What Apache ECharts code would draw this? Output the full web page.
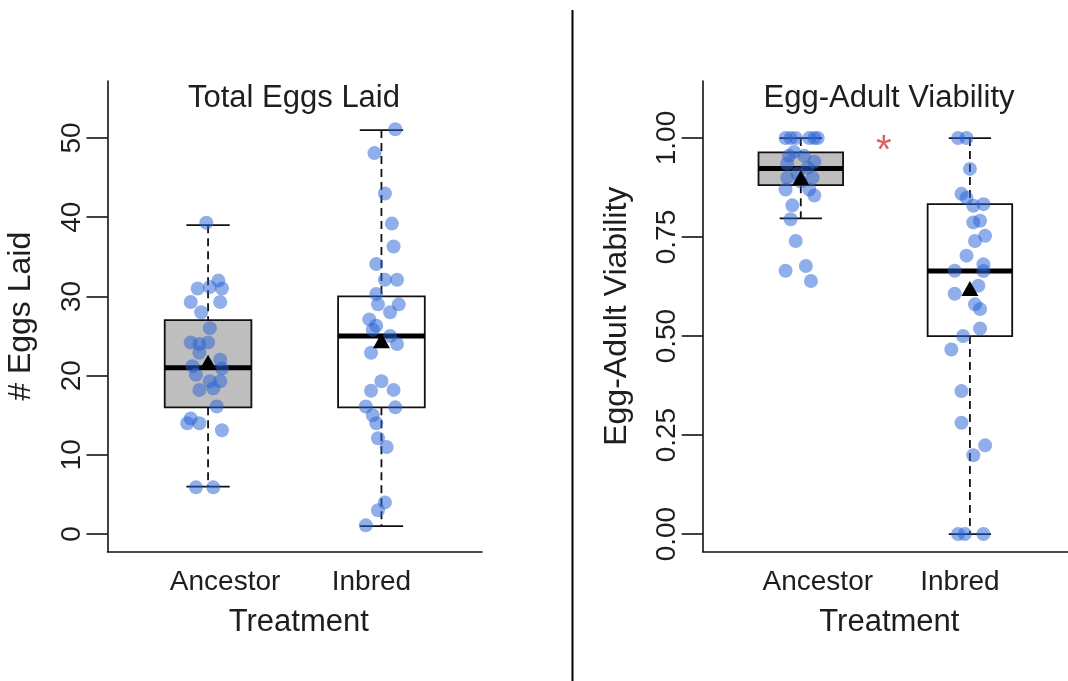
<!DOCTYPE html>
<html><head><meta charset="utf-8">
<script src="https://cdn.jsdelivr.net/npm/echarts@6/dist/echarts.min.js"></script>
<style>html,body{margin:0;padding:0;background:#fff}#c{width:1068px;height:681px}</style>
</head><body><div id="c"></div>
<script>
const categories = ['Ancestor', 'Inbred'];
const panelTitles = ['Total Eggs Laid', 'Egg-Adult Viability'];
const yNames = ['# Eggs Laid', 'Egg-Adult Viability'];
const xName = 'Treatment';
const eggTicks = [0, 10, 20, 30, 40, 50];
const viabTicks = [0, 0.25, 0.5, 0.75, 1];
// box stats per category: [min, q1, median, q3, max]
const eggBoxStats = [[6, 16, 21, 27, 39], [1, 16, 25, 30, 51]];
const eggMeans = [21.7, 24.4];
const viabBoxStats = [[0.797, 0.881, 0.923, 0.964, 1.00], [0.00, 0.50, 0.664, 0.833, 1.00]];
const viabMeans = [0.90, 0.62];
// jittered points: [category position with jitter, value]
const eggAncestorPts = [
  [0.99, 39.3], [0.94, 31.0], [1.01, 31.2], [1.06, 32.0], [1.08, 31.0],
  [0.90, 29.3], [1.07, 29.3], [0.96, 28.0], [1.01, 26.0], [0.90, 24.2],
  [1.00, 24.2], [0.95, 24.0], [0.95, 22.9], [1.07, 22.0], [0.91, 21.2],
  [1.08, 20.9], [0.93, 20.1], [1.01, 19.3], [1.07, 19.3], [0.95, 18.2],
  [1.03, 18.4], [1.05, 16.1], [0.90, 14.6], [0.95, 14.0], [0.88, 14.0],
  [1.08, 13.1], [0.93, 5.9], [1.03, 5.9]
];
const eggInbredPts = [
  [2.08, 51.1], [1.96, 48.1], [2.02, 43.0], [2.06, 39.2], [2.07, 36.3],
  [1.97, 34.1], [2.02, 32.1], [2.09, 32.1], [1.97, 30.3], [1.98, 29.0],
  [2.10, 29.0], [2.05, 28.0], [1.93, 27.1], [1.97, 26.3], [1.95, 25.8],
  [2.05, 25.0], [2.09, 24.0], [1.94, 22.9], [2.00, 19.3], [1.94, 18.1],
  [2.07, 18.2], [1.91, 16.1], [2.08, 16.0], [1.95, 15.0], [1.97, 14.0],
  [1.98, 12.1], [2.03, 11.0], [2.02, 4.0], [1.98, 3.0], [1.91, 1.1]
];
const viabAncestorPts = [
  [0.91, 1.0], [0.94, 1.0], [0.97, 1.0], [1.05, 1.0], [1.08, 1.0], [1.10, 1.0],
  [0.96, 0.965], [0.93, 0.955], [1.02, 0.955], [1.08, 0.94], [0.92, 0.935],
  [1.04, 0.925], [0.98, 0.91], [0.92, 0.90], [1.07, 0.90], [1.00, 0.89],
  [0.91, 0.87], [1.05, 0.87], [1.08, 0.855], [0.95, 0.83], [0.94, 0.795],
  [0.97, 0.74], [1.03, 0.677], [0.91, 0.665], [1.06, 0.639]
];
const viabInbredPts = [
  [1.93, 1.0], [1.98, 1.0], [2.00, 0.922], [1.95, 0.859], [1.98, 0.849],
  [2.02, 0.829], [2.08, 0.833], [2.02, 0.787], [2.06, 0.791], [2.09, 0.753],
  [2.03, 0.74], [1.98, 0.703], [2.08, 0.681], [1.91, 0.665], [2.08, 0.664],
  [2.05, 0.627], [1.91, 0.607], [2.03, 0.58], [2.06, 0.568], [2.06, 0.519],
  [1.96, 0.50], [1.89, 0.466], [1.95, 0.361], [1.95, 0.281], [2.09, 0.224],
  [2.02, 0.199], [1.93, 0.0], [1.97, 0.0], [2.08, 0.0]
];
const sigMark = { x: 1.49, y: 0.965, text: '*' };

// ---- styling ----
const FONT = '"Liberation Sans", Arial, sans-serif';
const TXT = '#1e1e1e';
const BOX_WIDTH = 0.5;
const BOX_FILLS = ['#bebebe', '#ffffff'];
const PT_COLOR = 'rgba(40,100,215,0.52)';
const X_MIN = 0.42, X_MAX = 2.58;

function renderBox(params, api) {
  const x = api.value(0);
  const pLo = api.coord([x, api.value(1)]);
  const pQ1 = api.coord([x, api.value(2)]);
  const pMed = api.coord([x, api.value(3)]);
  const pQ3 = api.coord([x, api.value(4)]);
  const pHi = api.coord([x, api.value(5)]);
  const w = api.size([BOX_WIDTH, 0])[0];
  const cx = pMed[0];
  const dash = { stroke: '#111', lineWidth: 1.8, lineDash: [8, 5], fill: null };
  const solid = { stroke: '#111', lineWidth: 1.8, fill: null };
  return {
    type: 'group', children: [
      { type: 'line', shape: { x1: cx, y1: pHi[1], x2: cx, y2: pQ3[1] }, style: dash },
      { type: 'line', shape: { x1: cx, y1: pQ1[1], x2: cx, y2: pLo[1] }, style: dash },
      { type: 'line', shape: { x1: cx - w / 4, y1: pHi[1], x2: cx + w / 4, y2: pHi[1] }, style: solid },
      { type: 'line', shape: { x1: cx - w / 4, y1: pLo[1], x2: cx + w / 4, y2: pLo[1] }, style: solid },
      { type: 'rect', shape: { x: cx - w / 2, y: pQ3[1], width: w, height: pQ1[1] - pQ3[1] },
        style: { fill: BOX_FILLS[params.dataIndex], stroke: '#111', lineWidth: 1.8 } },
      { type: 'line', shape: { x1: cx - w / 2, y1: pMed[1], x2: cx + w / 2, y2: pMed[1] },
        style: { stroke: '#000', lineWidth: 5 } }
    ]
  };
}

const labelShiftRich = {
  a: { fontSize: 28, fontFamily: FONT, color: TXT, padding: [0, 0, 0, 34] },
  b: { fontSize: 28, fontFamily: FONT, color: TXT, padding: [0, 20, 0, 0] }
};

function xAxisFor(gi) {
  return {
    gridIndex: gi, type: 'value', min: X_MIN, max: X_MAX,
    axisLine: { show: true, onZero: false, lineStyle: { color: '#111', width: 1.6 } },
    axisTick: { show: false }, splitLine: { show: false },
    axisLabel: {
      customValues: [1, 2], margin: 17, fontSize: 28, fontFamily: FONT, color: TXT,
      formatter: v => (Math.round(v) === 1 ? '{a|' : '{b|') + categories[Math.round(v) - 1] + '}',
      rich: labelShiftRich
    },
    name: xName, nameLocation: 'middle', nameGap: 55,
    nameTextStyle: { fontSize: 31, fontFamily: FONT, color: TXT, padding: [0, 0, 0, 8] }
  };
}

function yAxisFor(gi, min, max, ticks, fmt, name) {
  return {
    gridIndex: gi, type: 'value', min, max,
    axisLine: { show: true, onZero: false, lineStyle: { color: '#111', width: 1.6 } },
    axisTick: { show: true, customValues: ticks, length: 21, lineStyle: { color: '#111', width: 1.6 } },
    splitLine: { show: false },
    axisLabel: { customValues: ticks, rotate: 90, margin: 21, fontSize: 28, fontFamily: FONT, color: TXT, formatter: fmt },
    name, nameLocation: 'middle', nameGap: 70,
    nameTextStyle: { fontSize: 32, fontFamily: FONT, color: TXT }
  };
}

function pointSeries(xi, data) {
  return {
    type: 'scatter', xAxisIndex: xi, yAxisIndex: xi, data, symbol: 'circle', symbolSize: 14,
    itemStyle: { color: PT_COLOR, opacity: 1 }, z: 3, silent: true, clip: false
  };
}

const option = {
  animation: false,
  backgroundColor: '#fff',
  grid: [
    { left: 107.5, top: 81, width: 374.5, height: 470.5 },
    { left: 702.7, top: 81, width: 374.5, height: 470.5 }
  ],
  xAxis: [xAxisFor(0), xAxisFor(1)],
  yAxis: [
    yAxisFor(0, -2.2, 57.2, eggTicks, v => String(v), yNames[0]),
    yAxisFor(1, -0.044, 1.144, viabTicks, v => v.toFixed(2), yNames[1])
  ],
  series: [
    { type: 'custom', xAxisIndex: 0, yAxisIndex: 0, renderItem: renderBox, z: 2,
      encode: { x: 0, y: [1, 2, 3, 4, 5] },
      data: eggBoxStats.map((s, i) => [i + 1].concat(s)) },
    { type: 'custom', xAxisIndex: 1, yAxisIndex: 1, renderItem: renderBox, z: 2,
      encode: { x: 0, y: [1, 2, 3, 4, 5] },
      data: viabBoxStats.map((s, i) => [i + 1].concat(s)) },
    pointSeries(0, eggAncestorPts),
    pointSeries(0, eggInbredPts),
    pointSeries(1, viabAncestorPts),
    pointSeries(1, viabInbredPts),
    { type: 'scatter', xAxisIndex: 0, yAxisIndex: 0, symbol: 'triangle', symbolSize: [17, 15],
      itemStyle: { color: '#000', opacity: 1 }, z: 5, data: eggMeans.map((m, i) => [i + 1, m]) },
    { type: 'scatter', xAxisIndex: 1, yAxisIndex: 1, symbol: 'triangle', symbolSize: [17, 15],
      itemStyle: { color: '#000', opacity: 1 }, z: 5, data: viabMeans.map((m, i) => [i + 1, m]) },
    { type: 'scatter', xAxisIndex: 1, yAxisIndex: 1, symbolSize: 0, z: 6,
      data: [[sigMark.x, sigMark.y]],
      label: { show: true, position: 'inside', formatter: sigMark.text, fontSize: 40,
        fontFamily: FONT, color: '#d63a3a' } }
  ],
  graphic: [
    { type: 'text', x: 294, y: 98, style: { text: panelTitles[0], font: '31px ' + FONT, fill: TXT, align: 'center', verticalAlign: 'middle' } },
    { type: 'text', x: 889, y: 98, style: { text: panelTitles[1], font: '31px ' + FONT, fill: TXT, align: 'center', verticalAlign: 'middle' } },
    { type: 'line', shape: { x1: 572.5, y1: 10, x2: 572.5, y2: 681 }, style: { stroke: '#000', lineWidth: 2 } }
  ]
};

const chart = echarts.init(document.getElementById('c'), null, { renderer: 'canvas' });
chart.setOption(option);
</script>
</body></html>
